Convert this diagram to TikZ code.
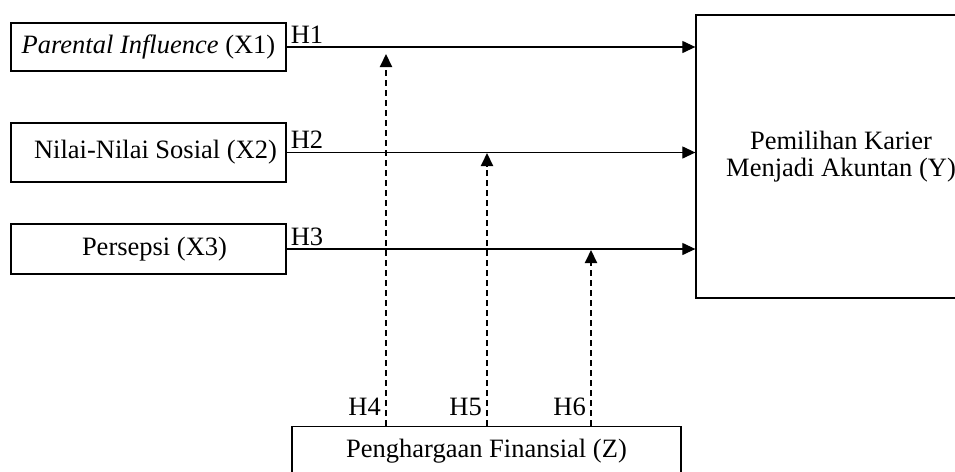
\documentclass[tikz,border=0pt]{standalone}
\usepackage{fontspec}
\setmainfont{Liberation Serif}
\usetikzlibrary{arrows.meta}
\tikzstyle{kotak}=[draw, line width=1.3pt, inner sep=0pt, minimum width=275pt]
\tikzstyle{panah}=[line width=1.2pt, -{Triangle[length=13pt,width=12pt]}]
\tikzstyle{putus}=[line width=2pt, dash pattern=on 6pt off 4pt, -{Triangle[length=13pt,width=12pt]}]
\tikzstyle{hipo}=[inner sep=0pt]

\begin{document}
\begin{tikzpicture}[x=1pt, y=-1pt, font=\fontsize{26.5}{27}\selectfont]
    \clip (0,0) rectangle (955,471);

    % Variabel X
    \node[kotak, minimum height=48pt] (X1) at (148.5,47) {\textit{Parental Influence} (X1)};
    \node[kotak, minimum height=59pt] (X2) at (148.5,152.5) {\hspace{14pt}Nilai-Nilai Sosial (X2)};
    \node[kotak, minimum height=50pt] (X3) at (148.5,249) {\hspace{12pt}Persepsi (X3)};

    % Variabel Y
    \node[kotak, minimum width=290pt, minimum height=283pt, align=center] (Y) at (841,156.5)
        {Pemilihan Karier\\Menjadi Akuntan (Y)};

    % Variabel Z (moderasi)
    \node[kotak, minimum width=389pt, anchor=north, text height=31pt, text depth=30pt] (Z) at (486.5,426)
        {Penghargaan Finansial (Z)};

    % H1 - H3
    \foreach \i in {1,2,3}{
        \draw[panah] (X\i.east) -- (X\i.east -| Y.west);
        \node[hipo, anchor=base west] (h\i) at ([xshift=4pt,yshift=4pt]X\i.east) {H\i};
    }

    % H4 - H6
    \foreach \x/\j/\ujung in {386/4/54, 487/5/153, 591/6/250}{
        \coordinate (m\j) at (\x,\ujung);
        \draw[putus] (Z.north -| m\j) -- (m\j);
        \node[hipo, anchor=base east] (h\j) at (\x-5,415) {H\j};
    }
\end{tikzpicture}
\end{document}
